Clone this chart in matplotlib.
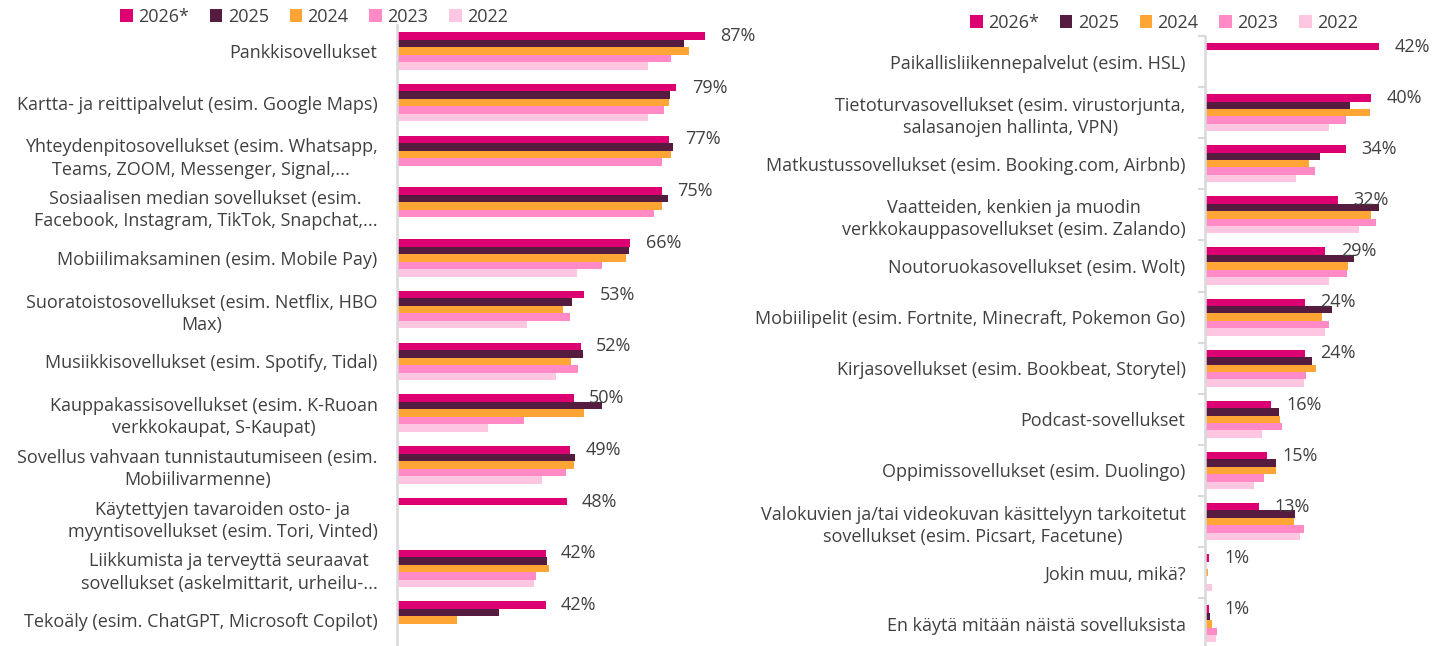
import numpy as np
import matplotlib
matplotlib.use("Agg")
import matplotlib.pyplot as plt
from matplotlib.patches import Patch

plt.rcParams['font.family'] = ['Open Sans', 'DejaVu Sans']

years = ["2026*", "2025", "2024", "2023", "2022"]
colors = ["#DC0073", "#561C3F", "#FFA535", "#FF8AC5", "#FFC6E2"]

left_cats = [
    "Pankkisovellukset",
    "Kartta- ja reittipalvelut (esim. Google Maps)",
    "Yhteydenpitosovellukset (esim. Whatsapp,\nTeams, ZOOM, Messenger, Signal,...",
    "Sosiaalisen median sovellukset (esim.\nFacebook, Instagram, TikTok, Snapchat,...",
    "Mobiilimaksaminen (esim. Mobile Pay)",
    "Suoratoistosovellukset (esim. Netflix, HBO\nMax)",
    "Musiikkisovellukset (esim. Spotify, Tidal)",
    "Kauppakassisovellukset (esim. K-Ruoan\nverkkokaupat, S-Kaupat)",
    "Sovellus vahvaan tunnistautumiseen (esim.\nMobiilivarmenne)",
    "Käytettyjen tavaroiden osto- ja\nmyyntisovellukset (esim. Tori, Vinted)",
    "Liikkumista ja terveyttä seuraavat\nsovellukset (askelmittarit, urheilu-...",
    "Tekoäly (esim. ChatGPT, Microsoft Copilot)",
]
nan = np.nan
left_2026 = [87, 79, 77, 75, 66, 53, 52, 50, 49, 48, 42, 42]
left_2025 = [81.2, 77.3, 78.1, 76.5, 65.7, 49.5, 52.5, 58.0, 50.2, nan, 42.3, 28.8]
left_2024 = [82.6, 77.0, 77.4, 75.0, 64.8, 46.9, 49.1, 53.0, 50.1, nan, 43.0, 17.0]
left_2023 = [77.6, 75.6, 75.0, 72.7, 58.0, 49.0, 51.1, 35.8, 47.8, nan, 39.3, nan]
left_2022 = [70.9, 70.9, nan, nan, 50.9, 36.8, 44.9, 25.8, 40.9, nan, 38.8, nan]

right_cats = [
    "Paikallisliikennepalvelut (esim. HSL)",
    "Tietoturvasovellukset (esim. virustorjunta,\nsalasanojen hallinta, VPN)",
    "Matkustussovellukset (esim. Booking.com, Airbnb)",
    "Vaatteiden, kenkien ja muodin\nverkkokauppasovellukset (esim. Zalando)",
    "Noutoruokasovellukset (esim. Wolt)",
    "Mobiilipelit (esim. Fortnite, Minecraft, Pokemon Go)",
    "Kirjasovellukset (esim. Bookbeat, Storytel)",
    "Podcast-sovellukset",
    "Oppimissovellukset (esim. Duolingo)",
    "Valokuvien ja/tai videokuvan käsittelyyn tarkoitetut\nsovellukset (esim. Picsart, Facetune)",
    "Jokin muu, mikä?",
    "En käytä mitään näistä sovelluksista",
]
right_2026 = [42, 40, 34, 32, 29, 24, 24, 16, 15, 13, 1, 1]
right_2025 = [nan, 35.0, 27.7, 42.0, 35.9, 30.6, 25.7, 17.8, 17.1, 21.8, 0.2, 1.3]
right_2024 = [nan, 39.8, 25.0, 40.0, 34.5, 28.1, 26.7, 18.1, 17.1, 21.5, 0.7, 1.7]
right_2023 = [nan, 34.0, 26.6, 41.2, 34.2, 29.9, 24.3, 18.6, 14.1, 23.9, nan, 2.8]
right_2022 = [nan, 29.9, 21.9, 37.0, 29.9, 28.9, 23.9, 13.8, 11.7, 22.8, 1.7, 2.6]

TEXT = "#404040"
FS = 13
W, H = 1433, 646
fig = plt.figure(figsize=(W / 100, H / 100), dpi=100)


def draw_panel(ax, cats, series, xmax, boundary_ticks):
    n = len(cats)
    h = 0.145
    y = np.arange(n)
    for j, (vals, col) in enumerate(zip(series, colors)):
        vals = np.array(vals, dtype=float)
        mask = ~np.isnan(vals)
        ax.barh(y[mask] + (j - 2) * h, vals[mask], height=h, color=col,
                edgecolor='none', zorder=2)
    for i, v in enumerate(series[0]):
        ax.annotate(f"{v:.0f}%", xy=(v, i - 2 * h), xytext=(11, 0),
                    textcoords='offset points', ha='left', va='center',
                    fontsize=FS, color=TEXT, annotation_clip=False)
    ax.set_ylim(n - 0.5, -0.5)
    ax.set_xlim(0, xmax)
    ax.set_yticks(y)
    ax.set_yticklabels(cats, fontsize=FS, color=TEXT, multialignment='center',
                       linespacing=1.3)
    ax.tick_params(axis='y', which='major', length=0, pad=14)
    ax.set_xticks([])
    for s in ['top', 'right', 'bottom']:
        ax.spines[s].set_visible(False)
    ax.spines['left'].set_color('#D9D9D9')
    ax.spines['left'].set_linewidth(1.8)
    if boundary_ticks:
        ax.set_yticks(np.arange(n) - 0.5, minor=True)
        ax.tick_params(axis='y', which='minor', length=5, width=1.5, color='#D9D9D9')
    ax.patch.set_alpha(0)


axL = fig.add_axes([397 / W, 0, 363 / W, 621 / H])
draw_panel(axL, left_cats, [left_2026, left_2025, left_2024, left_2023, left_2022],
           363 / 3.537, False)

axR = fig.add_axes([1205 / W, -3.4 / H, 228 / W, 613.4 / H])
draw_panel(axR, right_cats, [right_2026, right_2025, right_2024, right_2023, right_2022],
           228 / 4.15, True)

handles = [Patch(facecolor=c, edgecolor='none') for c in colors]
legkw = dict(ncol=5, frameon=False, fontsize=FS, handlelength=0.7, handleheight=0.7,
             handletextpad=0.3, columnspacing=1.15, borderaxespad=0, borderpad=0,
             labelcolor=TEXT)
fig.legend(handles, years, loc='center left', bbox_to_anchor=(120 / W, 1 - 17 / H), **legkw)
fig.legend(handles, years, loc='center left', bbox_to_anchor=(970 / W, 1 - 23 / H), **legkw)

fig.savefig("out.png", dpi=100)
